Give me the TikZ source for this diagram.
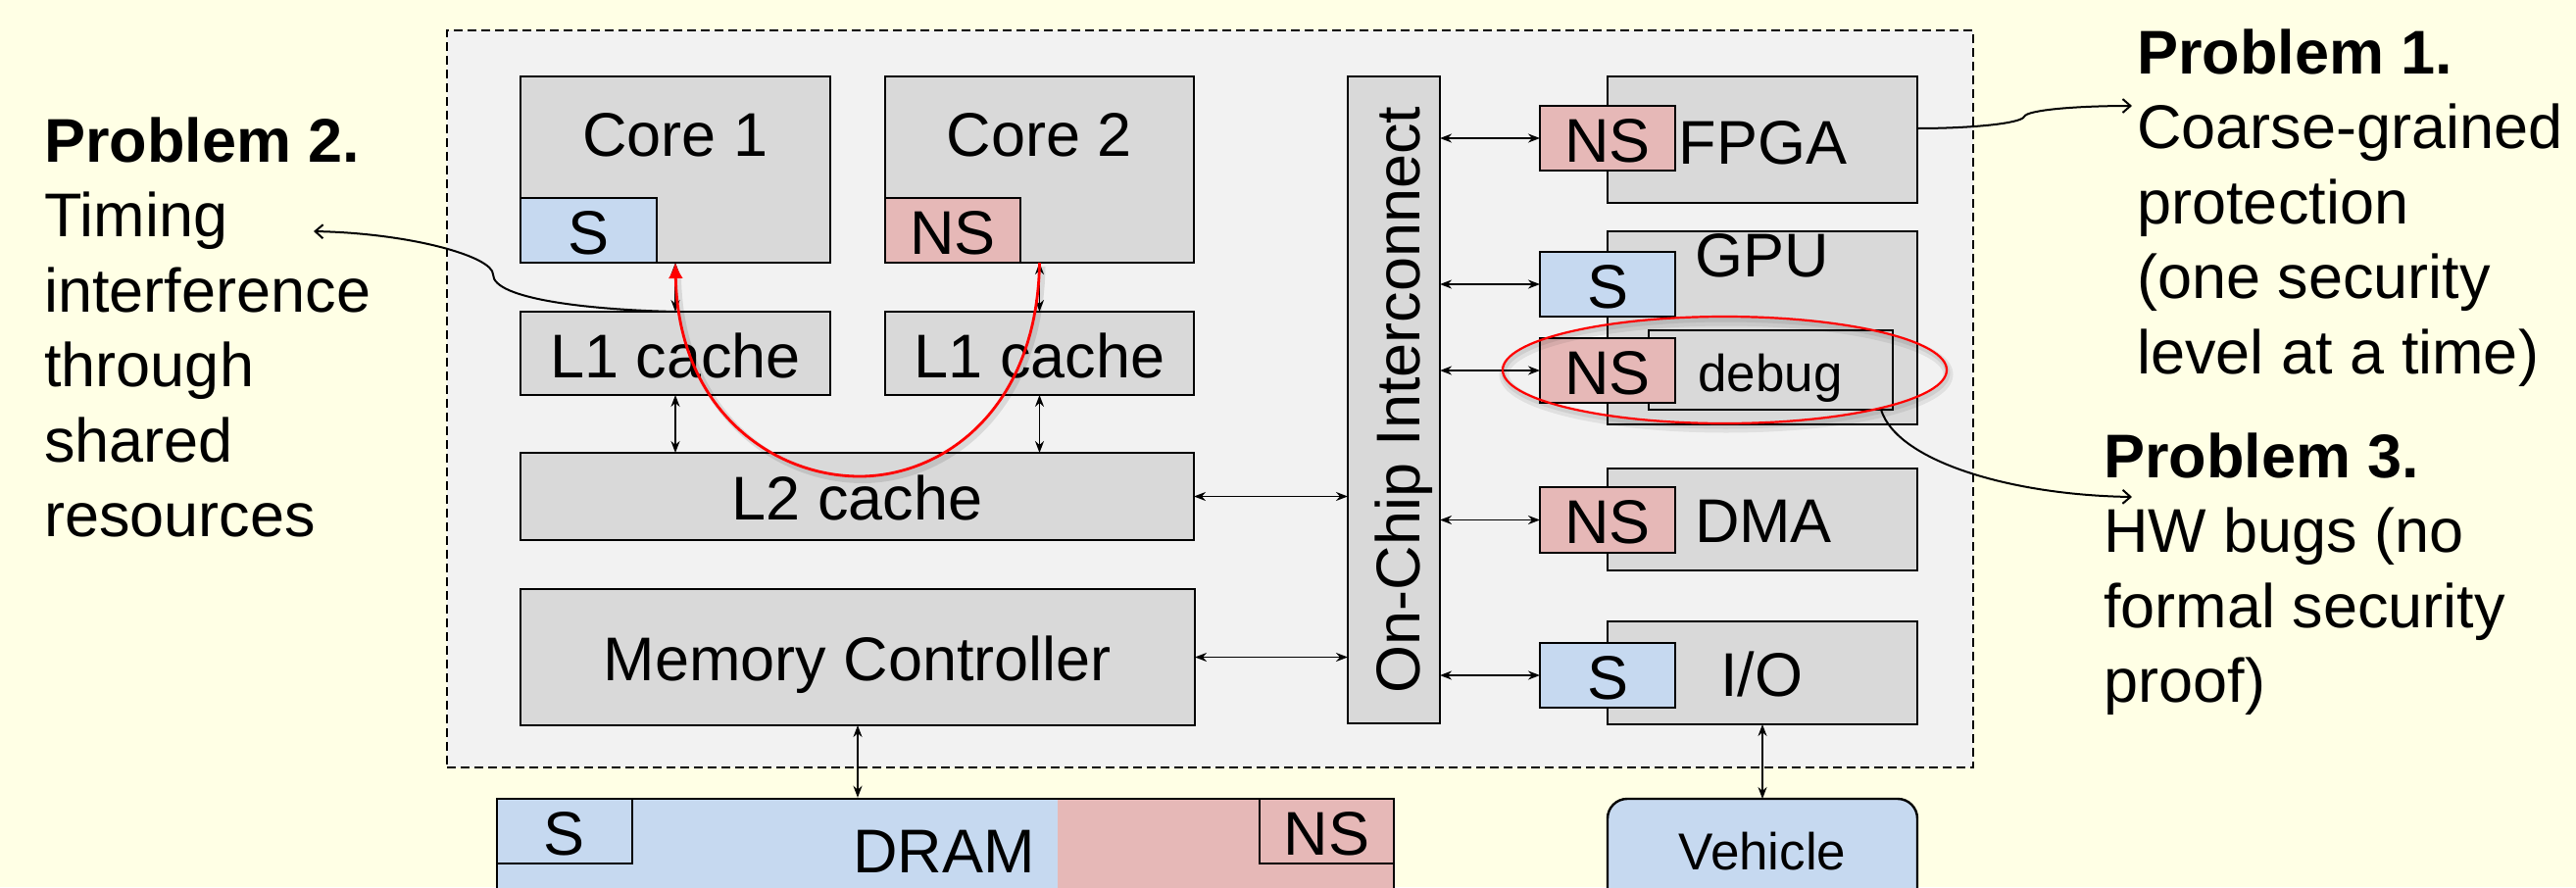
\documentclass[tikz,border=0pt]{standalone}
\usepackage{fontspec}
\setmainfont{Liberation Sans}
\usetikzlibrary{arrows.meta,fit,shapes.geometric}
\definecolor{bgyellow}{RGB}{255,255,229}
\definecolor{chipgrey}{RGB}{242,242,242}
\definecolor{boxgrey}{RGB}{217,217,217}
\definecolor{sblue}{RGB}{198,217,240}
\definecolor{nspink}{RGB}{230,184,183}
\begin{document}
\begin{tikzpicture}[x=0.5pt,y=-0.5pt,
  blk/.style={draw=black, fill=boxgrey, line width=1.2pt, inner sep=0pt, outer sep=0pt},
  sblk/.style={blk, fill=sblue},
  nsblk/.style={blk, fill=nspink},
  txt/.style={inner sep=0pt, anchor=base, font=\fontsize{31.5pt}{38.25pt}\selectfont},
  smalltxt/.style={txt, font=\fontsize{26.5pt}{30pt}\selectfont},
  note/.style={txt, anchor=base west},
  bi/.style={line width=0.95pt, {Stealth[length=6pt,width=4.5pt]}-{Stealth[length=6pt,width=4.5pt]}},
  callout/.style={line width=1pt, -{Straight Barb[length=4pt,width=7pt]}},
  redarc/.style={red, line width=1.4pt, -{Latex[length=8pt,width=7.5pt]}}]
\path[use as bounding box, fill=bgyellow] (0,0) rectangle (2628,905);
\clip (0,0) rectangle (2628,905);

% SoC boundary
\node[fit={(456,31)(2013,783)}, inner sep=0pt, draw, fill=chipgrey,
      line width=0.9pt, dash pattern=on 4.5pt off 2.5pt] (chip) {};

% cores and caches
\node[blk, fit={(531,78)(847,268)}] (core1) {};
\node[sblk, fit={(531,202)(670,268)}] (core1s) {};
\node[txt] (core1t) at (689,159) {Core 1};
\node[txt] (core1st) at (600.5,259) {S};

\node[blk, fit={(903,78)(1218,268)}] (core2) {};
\node[nsblk, fit={(903,202)(1041,268)}] (core2ns) {};
\node[txt] (core2t) at (1060.5,159) {Core 2};
\node[txt] (core2nst) at (972,259) {NS};

\node[blk, fit={(531,318)(847,403)}] (l1a) {};
\node[txt] (l1at) at (689,385) {L1 cache};
\node[blk, fit={(903,318)(1218,403)}] (l1b) {};
\node[txt] (l1bt) at (1060.5,385) {L1 cache};

\node[blk, fit={(531,462)(1218,551)}] (l2) {};
\node[txt] (l2t) at (874.5,530) {L2 cache};

\node[blk, fit={(531,601)(1219,740)}] (mc) {};
\node[txt] (mct) at (875,694) {Memory Controller};

% interconnect
\node[blk, fit={(1375,78)(1469,738)}] (ic) {};
\node[txt, rotate=90] (ict) at (1448,408) {On-Chip Interconnect};

% peripherals
\node[blk, fit={(1640,78)(1956,207)}] (fpga) {};
\node[nsblk, fit={(1571,108)(1709,174)}] (fpgans) {};
\node[txt] (fpgat) at (1798.5,167) {FPGA};
\node[txt] (fpganst) at (1640,165) {NS};

\node[blk, fit={(1640,236)(1956,433)}] (gpu) {};
\node[txt] (gput) at (1798,282) {GPU};
\node[sblk, fit={(1571,257)(1709,323)}] (gpus) {};
\node[txt] (gpust) at (1640,314) {S};
\node[blk, fit={(1682,337)(1931,418)}] (dbg) {};
\node[smalltxt] (dbgt) at (1806,399) {debug};
\node[nsblk, fit={(1571,345)(1709,411)}] (dbgns) {};
\node[txt] (dbgnst) at (1640,402) {NS};

\node[blk, fit={(1640,478)(1956,582)}] (dma) {};
\node[nsblk, fit={(1571,497)(1709,564)}] (dmans) {};
\node[txt] (dmat) at (1799,553) {DMA};
\node[txt] (dmanst) at (1640,554.5) {NS};

\node[blk, fit={(1640,634)(1956,739)}] (io) {};
\node[sblk, fit={(1571,656)(1709,722)}] (ios) {};
\node[txt] (iot) at (1797,710) {I/O};
\node[txt] (iost) at (1640,713) {S};

% DRAM split into secure / non-secure halves
\node[fit={(507,815)(1079,960)}, inner sep=0pt, fill=sblue] (dramS) {};
\node[fit={(1079,815)(1422,960)}, inner sep=0pt, fill=nspink] (dramNS) {};
\node[fit={(507,815)(1422,960)}, inner sep=0pt, draw, line width=1.2pt] (dram) {};
\node[sblk, line width=0.8pt, fit={(507,815)(645,881)}] (drams) {};
\node[nsblk, line width=0.8pt, fit={(1285,815)(1422,881)}] (dramns) {};
\node[txt] (dramt) at (963,890) {DRAM};
\node[txt] (dramst) at (576,872) {S};
\node[txt] (dramnst) at (1353.5,872) {NS};

% vehicle
\node[sblk, rounded corners=10pt, fit={(1640,815)(1956,980)}] (vehicle) {};
\node[smalltxt] (vehiclet) at (1798,887) {Vehicle};

% links
\draw[bi] (core1.south) -- (l1a.north);
\draw[bi] (core2.south) -- (l1b.north);
\draw[bi] (l1a.south) -- (l1a.south |- l2.north);
\draw[bi] (l1b.south) -- (l1b.south |- l2.north);
\draw[bi] (l2.east) -- (l2.east -| ic.west);
\draw[bi] (mc.east) -- (mc.east -| ic.west);
\draw[bi] (ic.east |- fpgans.west) -- (fpgans.west);
\draw[bi] (ic.east |- gpus.west) -- (gpus.west);
\draw[bi] (ic.east |- dbgns.west) -- (dbgns.west);
\draw[bi] (ic.east |- dmans.west) -- (dmans.west);
\draw[bi] (ic.east |- ios.west) -- (ios.west);
\draw[bi] (mc.south) -- (mc.south |- dram.north);
\draw[bi] (io.south) -- (vehicle.north);

% shared-cache timing channel
\coordinate (arcbottom) at (877,486);
\draw[black, opacity=0.10, line width=3pt]
  ([xshift=1.5pt,yshift=-2pt]core2.south) .. controls (1061,422) and (963,490) .. (880,490)
  .. controls (793,490) and (695,422) .. ([xshift=1.5pt,yshift=-8pt]core1.south);
\draw[redarc] (core2.south) .. controls (1058,420) and (960,486) .. (arcbottom)
  .. controls (790,486) and (692,420) .. (core1.south);

% debug port highlight
\node[ellipse, draw=black, opacity=0.07, line width=5pt, minimum width=226.5pt,
      minimum height=54.5pt, inner sep=0pt] (ringshade) at (1761,382) {};
\node[ellipse, draw=black, opacity=0.08, line width=2.5pt, minimum width=226.5pt,
      minimum height=54.5pt, inner sep=0pt] (ringshade2) at (1760.5,380.5) {};
\node[ellipse, draw=red, line width=1.1pt, minimum width=226.5pt,
      minimum height=54.5pt, inner sep=0pt] (ring) at (1759.5,377.5) {};

% problem notes
\node[note] (p2a) at (45,165) {\bfseries Problem 2.};
\node[note] (p2b) at (45,241.5) {Timing};
\node[note] (p2c) at (45,318) {interference};
\node[note] (p2d) at (45,394.5) {through};
\node[note] (p2e) at (45,471) {shared};
\node[note] (p2f) at (45,547.5) {resources};

\node[note] (p1a) at (2180,75) {\bfseries Problem 1.};
\node[note] (p1b) at (2180,151.5) {Coarse-grained};
\node[note] (p1c) at (2180,228) {protection};
\node[note] (p1d) at (2180,304.5) {(one security};
\node[note] (p1e) at (2180,381) {level at a time)};

\node[note] (p3a) at (2146,487) {\bfseries Problem 3.};
\node[note] (p3b) at (2146,563.5) {HW bugs (no};
\node[note] (p3c) at (2146,640) {formal security};
\node[note] (p3d) at (2146,716.5) {proof)};

% callouts
\coordinate (p2tip) at (320,236);
\draw[callout] (l1a.north) .. controls (600,316) and (503,305) .. (503,280)
  .. controls (503,262) and (420,238) .. (p2tip);
\coordinate (p1tip) at (2175,108);
\draw[callout] ([yshift=5.75pt]fpga.east) .. controls (2010,131) and (2062,126) .. (2065,119)
  .. controls (2068,112) and (2120,108) .. (p1tip);
\coordinate (p3tip) at (2175,507);
\draw[callout] ([xshift=-6pt]dbg.south east) .. controls (1935,470) and (2050,505) .. (p3tip);
\end{tikzpicture}
\end{document}
